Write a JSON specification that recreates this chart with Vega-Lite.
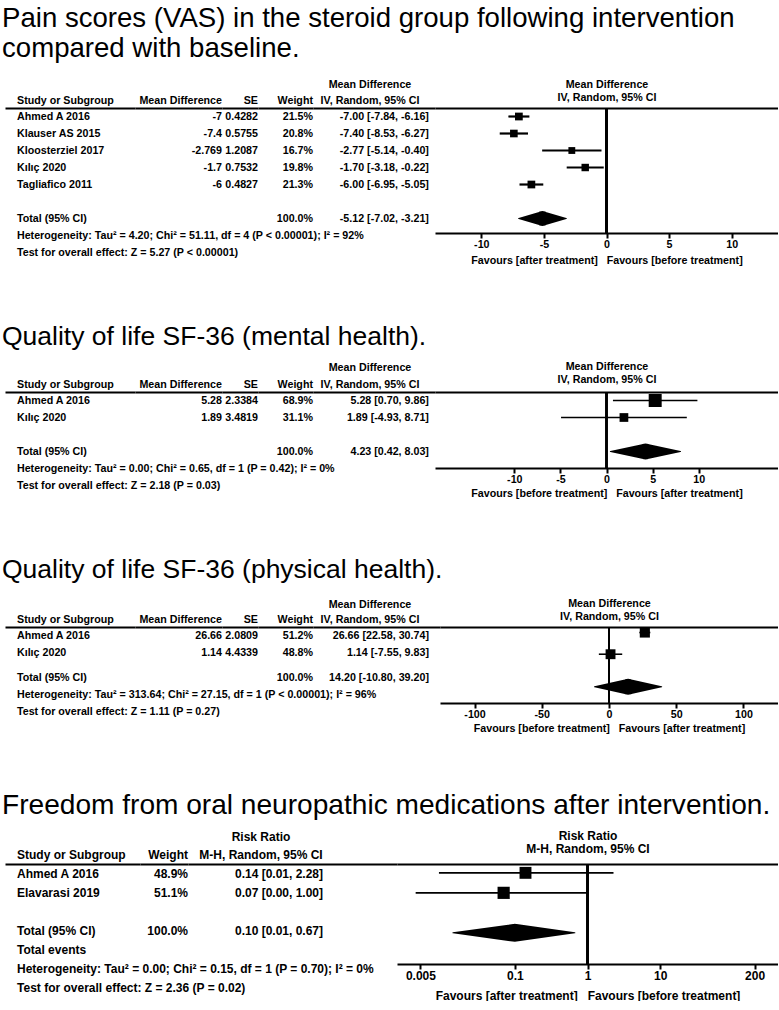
{
"$schema": "https://vega.github.io/schema/vega-lite/v6.json",
"background": "white",
"padding": {"left": 2, "top": 5, "right": 0, "bottom": 0},
"config": {
 "view": {"stroke": null},
 "axis": {"grid": false, "domainColor": "black", "domainWidth": 2, "tickColor": "black", "labelColor": "black", "titleColor": "black", "labelFont": "Liberation Sans", "titleFont": "Liberation Sans", "labelFontWeight": "bold", "titleFontWeight": "bold", "labelAngle": 0},
 "text": {"font": "Liberation Sans", "fontWeight": "bold", "color": "black", "baseline": "middle"},
 "title": {"font": "Liberation Sans", "color": "black", "fontWeight": "normal", "fontSize": 26.5, "anchor": "start", "dx": -3, "lineHeight": 30}
},
"datasets": {
 "p1": [
  {"row": "Ahmed A 2016", "label": "Ahmed A 2016", "md": "-7", "se": "0.4282", "w": "21.5%", "ci": "-7.00 [-7.84, -6.16]", "est": -7, "lo": -7.84, "hi": -6.16, "weight": 21.5, "kind": "study"},
  {"row": "Klauser AS 2015", "label": "Klauser AS 2015", "md": "-7.4", "se": "0.5755", "w": "20.8%", "ci": "-7.40 [-8.53, -6.27]", "est": -7.4, "lo": -8.53, "hi": -6.27, "weight": 20.8, "kind": "study"},
  {"row": "Kloosterziel 2017", "label": "Kloosterziel 2017", "md": "-2.769", "se": "1.2087", "w": "16.7%", "ci": "-2.77 [-5.14, -0.40]", "est": -2.77, "lo": -5.14, "hi": -0.4, "weight": 16.7, "kind": "study"},
  {"row": "Kılıç 2020", "label": "Kılıç 2020", "md": "-1.7", "se": "0.7532", "w": "19.8%", "ci": "-1.70 [-3.18, -0.22]", "est": -1.7, "lo": -3.18, "hi": -0.22, "weight": 19.8, "kind": "study"},
  {"row": "Tagliafico 2011", "label": "Tagliafico 2011", "md": "-6", "se": "0.4827", "w": "21.3%", "ci": "-6.00 [-6.95, -5.05]", "est": -6, "lo": -6.95, "hi": -5.05, "weight": 21.3, "kind": "study"},
  {"row": "Total", "label": "Total (95% CI)", "w": "100.0%", "ci": "-5.12 [-7.02, -3.21]", "est": -5.12, "lo": -7.02, "hi": -3.21, "weight": 100, "kind": "total"},
  {"row": "het", "label": "Heterogeneity: Tau² = 4.20; Chi² = 51.11, df = 4 (P < 0.00001); I² = 92%", "kind": "note"},
  {"row": "test", "label": "Test for overall effect: Z = 5.27 (P < 0.00001)", "kind": "note"}
 ],
 "p2": [
  {"row": "Ahmed A 2016", "label": "Ahmed A 2016", "md": "5.28", "se": "2.3384", "w": "68.9%", "ci": "5.28 [0.70, 9.86]", "est": 5.28, "lo": 0.7, "hi": 9.86, "weight": 68.9, "kind": "study"},
  {"row": "Kılıç 2020", "label": "Kılıç 2020", "md": "1.89", "se": "3.4819", "w": "31.1%", "ci": "1.89 [-4.93, 8.71]", "est": 1.89, "lo": -4.93, "hi": 8.71, "weight": 31.1, "kind": "study"},
  {"row": "Total", "label": "Total (95% CI)", "w": "100.0%", "ci": "4.23 [0.42, 8.03]", "est": 4.23, "lo": 0.42, "hi": 8.03, "weight": 100, "kind": "total"},
  {"row": "het", "label": "Heterogeneity: Tau² = 0.00; Chi² = 0.65, df = 1 (P = 0.42); I² = 0%", "kind": "note"},
  {"row": "test", "label": "Test for overall effect: Z = 2.18 (P = 0.03)", "kind": "note"}
 ],
 "p3": [
  {"row": "Ahmed A 2016", "label": "Ahmed A 2016", "md": "26.66", "se": "2.0809", "w": "51.2%", "ci": "26.66 [22.58, 30.74]", "est": 26.66, "lo": 22.58, "hi": 30.74, "weight": 51.2, "kind": "study"},
  {"row": "Kılıç 2020", "label": "Kılıç 2020", "md": "1.14", "se": "4.4339", "w": "48.8%", "ci": "1.14 [-7.55, 9.83]", "est": 1.14, "lo": -7.55, "hi": 9.83, "weight": 48.8, "kind": "study"},
  {"row": "Total", "label": "Total (95% CI)", "w": "100.0%", "ci": "14.20 [-10.80, 39.20]", "est": 14.2, "lo": -10.8, "hi": 39.2, "weight": 100, "kind": "total"},
  {"row": "het", "label": "Heterogeneity: Tau² = 313.64; Chi² = 27.15, df = 1 (P < 0.00001); I² = 96%", "kind": "note"},
  {"row": "test", "label": "Test for overall effect: Z = 1.11 (P = 0.27)", "kind": "note"}
 ],
 "p4": [
  {"row": "Ahmed A 2016", "label": "Ahmed A 2016", "w": "48.9%", "ci": "0.14 [0.01, 2.28]", "est": 0.14, "lo": 0.009, "hi": 2.28, "weight": 48.9, "kind": "study"},
  {"row": "Elavarasi 2019", "label": "Elavarasi 2019", "w": "51.1%", "ci": "0.07 [0.00, 1.00]", "est": 0.07, "lo": 0.0043, "hi": 1.0, "weight": 51.1, "kind": "study"},
  {"row": "Total", "label": "Total (95% CI)", "w": "100.0%", "ci": "0.10 [0.01, 0.67]", "est": 0.1, "lo": 0.014, "hi": 0.67, "weight": 100, "kind": "total"},
  {"row": "events", "label": "Total events", "kind": "note"},
  {"row": "het", "label": "Heterogeneity: Tau² = 0.00; Chi² = 0.15, df = 1 (P = 0.70); I² = 0%", "kind": "note"},
  {"row": "test", "label": "Test for overall effect: Z = 2.36 (P = 0.02)", "kind": "note"}
 ]
},
"spacing": 57,
"vconcat": [
 {
  "title": {"text": ["Pain scores (VAS) in the steroid group following intervention", "compared with baseline."], "offset": 15, "fontSize": 27.6},
  "bounds": "flush",
  "spacing": 0,
  "hconcat": [
   {"width": 130, "height": 153, "data": {"name": "p1"},
    "mark": {"type": "text", "align": "left", "fontSize": 10.7},
    "encoding": {
     "x": {"datum": "Study or Subgroup", "type": "nominal", "bandPosition": 0.092, "scale": {"type": "band", "paddingInner": 0, "paddingOuter": 0}, "axis": {"orient": "top", "ticks": false, "labelPadding": 3, "labelFontSize": 10.7, "labelAlign": "left", "labelOffset": -53, "title": null}},
     "y": {"field": "row", "type": "nominal", "scale": {"type": "point", "domain": ["Ahmed A 2016", "Klauser AS 2015", "Kloosterziel 2017", "Kılıç 2020", "Tagliafico 2011", "gap", "Total", "het", "test"], "padding": 0.5}, "axis": null},
     "text": {"field": "label", "type": "nominal"}}},
   {"width": 87, "height": 153, "data": {"name": "p1"}, "transform": [{"filter": "isValid(datum.md)"}],
    "mark": {"type": "text", "align": "right", "fontSize": 10.7},
    "encoding": {
     "x": {"datum": "Mean Difference", "type": "nominal", "bandPosition": 1, "scale": {"type": "band", "paddingInner": 0, "paddingOuter": 0}, "axis": {"orient": "top", "ticks": false, "labelPadding": 3, "labelFontSize": 10.7, "labelAlign": "right", "labelOffset": 43.5, "title": null}},
     "y": {"field": "row", "type": "nominal", "scale": {"type": "point", "domain": ["Ahmed A 2016", "Klauser AS 2015", "Kloosterziel 2017", "Kılıç 2020", "Tagliafico 2011", "gap", "Total", "het", "test"], "padding": 0.5}, "axis": null},
     "text": {"field": "md", "type": "nominal"}}},
   {"width": 36, "height": 153, "data": {"name": "p1"}, "transform": [{"filter": "isValid(datum.se)"}],
    "mark": {"type": "text", "align": "right", "fontSize": 10.7},
    "encoding": {
     "x": {"datum": "SE", "type": "nominal", "bandPosition": 1, "scale": {"type": "band", "paddingInner": 0, "paddingOuter": 0}, "axis": {"orient": "top", "ticks": false, "labelPadding": 3, "labelFontSize": 10.7, "labelAlign": "right", "labelOffset": 18, "title": null}},
     "y": {"field": "row", "type": "nominal", "scale": {"type": "point", "domain": ["Ahmed A 2016", "Klauser AS 2015", "Kloosterziel 2017", "Kılıç 2020", "Tagliafico 2011", "gap", "Total", "het", "test"], "padding": 0.5}, "axis": null},
     "text": {"field": "se", "type": "nominal"}}},
   {"width": 55, "height": 153, "data": {"name": "p1"}, "transform": [{"filter": "isValid(datum.w)"}],
    "mark": {"type": "text", "align": "right", "fontSize": 10.7},
    "encoding": {
     "x": {"datum": "Weight", "type": "nominal", "bandPosition": 1, "scale": {"type": "band", "paddingInner": 0, "paddingOuter": 0}, "axis": {"orient": "top", "ticks": false, "labelPadding": 3, "labelFontSize": 10.7, "labelAlign": "right", "labelOffset": 27.5, "title": null}},
     "y": {"field": "row", "type": "nominal", "scale": {"type": "point", "domain": ["Ahmed A 2016", "Klauser AS 2015", "Kloosterziel 2017", "Kılıç 2020", "Tagliafico 2011", "gap", "Total", "het", "test"], "padding": 0.5}, "axis": null},
     "text": {"field": "w", "type": "nominal"}}},
   {"width": 122, "height": 153, "data": {"name": "p1"}, "transform": [{"filter": "isValid(datum.ci)"}],
    "mark": {"type": "text", "align": "right", "fontSize": 10.7},
    "encoding": {
     "x": {"datum": "Mean Difference|IV, Random, 95% CI", "type": "nominal", "bandPosition": 0.95, "scale": {"type": "band", "paddingInner": 0, "paddingOuter": 0}, "axis": {"orient": "top", "ticks": false, "labelPadding": 19, "labelFontSize": 10.7, "labelAlign": "center", "labelOffset": -4, "labelExpr": "split(datum.label, '|')", "labelLineHeight": 16, "title": null}},
     "y": {"field": "row", "type": "nominal", "scale": {"type": "point", "domain": ["Ahmed A 2016", "Klauser AS 2015", "Kloosterziel 2017", "Kılıç 2020", "Tagliafico 2011", "gap", "Total", "het", "test"], "padding": 0.5}, "axis": null},
     "text": {"field": "ci", "type": "nominal"}}},
   {"width": 343, "height": 125, "data": {"name": "p1"},
    "resolve": {"scale": {"size": "independent"}, "axis": {"x": "independent"}},
    "layer": [
     {"transform": [{"filter": "datum.kind == 'study'"}],
      "mark": {"type": "rule", "strokeWidth": 2.2, "color": "black"},
      "encoding": {
       "x": {"field": "lo", "type": "quantitative", "scale": {"domain": [-13.7, 13.7], "nice": false, "zero": false},
             "axis": {"orient": "bottom", "values": [-10, -5, 0, 5, 10], "labelExpr": "'' + datum.value", "tickSize": 5, "tickWidth": 2, "labelFontSize": 10.7, "labelPadding": 1, "labelFlush": false, "title": "Favours [after treatment]\u00a0\u00a0\u00a0Favours [before treatment]", "titleFontSize": 10.7, "titlePadding": 7}},
       "x2": {"field": "hi"},
       "y": {"field": "row", "type": "nominal", "scale": {"type": "point", "domain": ["Ahmed A 2016", "Klauser AS 2015", "Kloosterziel 2017", "Kılıç 2020", "Tagliafico 2011", "gap", "Total"], "padding": 0.676, "align": 0.37}, "axis": null}}},
     {"transform": [{"filter": "datum.kind == 'study'"}],
      "mark": {"type": "square", "filled": true, "color": "black", "opacity": 1},
      "encoding": {
       "x": {"field": "est", "type": "quantitative", "axis": null},
       "y": {"field": "row", "type": "nominal", "axis": null},
       "size": {"field": "weight", "type": "quantitative", "scale": {"domain": [0, 100], "range": [0, 280]}, "legend": null}}},
     {"transform": [{"filter": "datum.kind == 'total'"}, {"fold": ["lo", "est", "hi"], "as": ["key", "value"]}],
      "mark": {"type": "trail", "color": "black"},
      "encoding": {
       "x": {"field": "value", "type": "quantitative", "axis": null},
       "y": {"field": "row", "type": "nominal", "axis": null},
       "order": {"field": "value", "type": "quantitative"},
       "size": {"field": "key", "type": "nominal", "scale": {"type": "ordinal", "domain": ["lo", "est", "hi"], "range": [0, 15, 0]}, "legend": null}}},
     {"mark": {"type": "rule", "strokeWidth": 2, "color": "black"},
      "encoding": {
       "x": {"datum": 0, "type": "quantitative", "axis": {"orient": "top", "ticks": false, "labels": false, "title": ["Mean Difference", "IV, Random, 95% CI"], "titleFontSize": 10.7, "titlePadding": 6, "titleLineHeight": 13}}}}
    ]}
  ]
 },
 {
  "title": {"text": "Quality of life SF-36 (mental health).", "offset": 10},
  "bounds": "flush",
  "spacing": 0,
  "hconcat": [
   {"width": 130, "height": 102, "data": {"name": "p2"},
    "mark": {"type": "text", "align": "left", "fontSize": 10.7},
    "encoding": {
     "x": {"datum": "Study or Subgroup", "type": "nominal", "bandPosition": 0.092, "scale": {"type": "band", "paddingInner": 0, "paddingOuter": 0}, "axis": {"orient": "top", "ticks": false, "labelPadding": 3, "labelFontSize": 10.7, "labelAlign": "left", "labelOffset": -53, "title": null}},
     "y": {"field": "row", "type": "nominal", "scale": {"type": "point", "domain": ["Ahmed A 2016", "Kılıç 2020", "gap", "Total", "het", "test"], "padding": 0.5}, "axis": null},
     "text": {"field": "label", "type": "nominal"}}},
   {"width": 87, "height": 102, "data": {"name": "p2"}, "transform": [{"filter": "isValid(datum.md)"}],
    "mark": {"type": "text", "align": "right", "fontSize": 10.7},
    "encoding": {
     "x": {"datum": "Mean Difference", "type": "nominal", "bandPosition": 1, "scale": {"type": "band", "paddingInner": 0, "paddingOuter": 0}, "axis": {"orient": "top", "ticks": false, "labelPadding": 3, "labelFontSize": 10.7, "labelAlign": "right", "labelOffset": 43.5, "title": null}},
     "y": {"field": "row", "type": "nominal", "scale": {"type": "point", "domain": ["Ahmed A 2016", "Kılıç 2020", "gap", "Total", "het", "test"], "padding": 0.5}, "axis": null},
     "text": {"field": "md", "type": "nominal"}}},
   {"width": 36, "height": 102, "data": {"name": "p2"}, "transform": [{"filter": "isValid(datum.se)"}],
    "mark": {"type": "text", "align": "right", "fontSize": 10.7},
    "encoding": {
     "x": {"datum": "SE", "type": "nominal", "bandPosition": 1, "scale": {"type": "band", "paddingInner": 0, "paddingOuter": 0}, "axis": {"orient": "top", "ticks": false, "labelPadding": 3, "labelFontSize": 10.7, "labelAlign": "right", "labelOffset": 18, "title": null}},
     "y": {"field": "row", "type": "nominal", "scale": {"type": "point", "domain": ["Ahmed A 2016", "Kılıç 2020", "gap", "Total", "het", "test"], "padding": 0.5}, "axis": null},
     "text": {"field": "se", "type": "nominal"}}},
   {"width": 55, "height": 102, "data": {"name": "p2"}, "transform": [{"filter": "isValid(datum.w)"}],
    "mark": {"type": "text", "align": "right", "fontSize": 10.7},
    "encoding": {
     "x": {"datum": "Weight", "type": "nominal", "bandPosition": 1, "scale": {"type": "band", "paddingInner": 0, "paddingOuter": 0}, "axis": {"orient": "top", "ticks": false, "labelPadding": 3, "labelFontSize": 10.7, "labelAlign": "right", "labelOffset": 27.5, "title": null}},
     "y": {"field": "row", "type": "nominal", "scale": {"type": "point", "domain": ["Ahmed A 2016", "Kılıç 2020", "gap", "Total", "het", "test"], "padding": 0.5}, "axis": null},
     "text": {"field": "w", "type": "nominal"}}},
   {"width": 122, "height": 102, "data": {"name": "p2"}, "transform": [{"filter": "isValid(datum.ci)"}],
    "mark": {"type": "text", "align": "right", "fontSize": 10.7},
    "encoding": {
     "x": {"datum": "Mean Difference|IV, Random, 95% CI", "type": "nominal", "bandPosition": 0.95, "scale": {"type": "band", "paddingInner": 0, "paddingOuter": 0}, "axis": {"orient": "top", "ticks": false, "labelPadding": 20, "labelFontSize": 10.7, "labelAlign": "center", "labelOffset": -4, "labelExpr": "split(datum.label, '|')", "labelLineHeight": 17, "title": null}},
     "y": {"field": "row", "type": "nominal", "scale": {"type": "point", "domain": ["Ahmed A 2016", "Kılıç 2020", "gap", "Total", "het", "test"], "padding": 0.5}, "axis": null},
     "text": {"field": "ci", "type": "nominal"}}},
   {"width": 343, "height": 76, "data": {"name": "p2"},
    "resolve": {"scale": {"size": "independent"}, "axis": {"x": "independent"}},
    "layer": [
     {"transform": [{"filter": "datum.kind == 'study'"}],
      "mark": {"type": "rule", "strokeWidth": 1.6, "color": "black"},
      "encoding": {
       "x": {"field": "lo", "type": "quantitative", "scale": {"domain": [-18.6, 18.6], "nice": false, "zero": false},
             "axis": {"orient": "bottom", "values": [-10, -5, 0, 5, 10], "labelExpr": "'' + datum.value", "tickSize": 5, "tickWidth": 2, "labelFontSize": 10.7, "labelPadding": 1, "labelFlush": false, "title": "Favours [before treatment]\u00a0\u00a0\u00a0Favours [after treatment]", "titleFontSize": 10.7, "titlePadding": 5}},
       "x2": {"field": "hi"},
       "y": {"field": "row", "type": "nominal", "scale": {"type": "point", "domain": ["Ahmed A 2016", "Kılıç 2020", "gap", "Total"], "padding": 0.735, "align": 0.34}, "axis": null}}},
     {"transform": [{"filter": "datum.kind == 'study'"}],
      "mark": {"type": "square", "filled": true, "color": "black", "opacity": 1},
      "encoding": {
       "x": {"field": "est", "type": "quantitative", "axis": null},
       "y": {"field": "row", "type": "nominal", "axis": null},
       "size": {"field": "weight", "type": "quantitative", "scale": {"domain": [0, 100], "range": [0, 245]}, "legend": null}}},
     {"transform": [{"filter": "datum.kind == 'total'"}, {"fold": ["lo", "est", "hi"], "as": ["key", "value"]}],
      "mark": {"type": "trail", "color": "black"},
      "encoding": {
       "x": {"field": "value", "type": "quantitative", "axis": null},
       "y": {"field": "row", "type": "nominal", "axis": null},
       "order": {"field": "value", "type": "quantitative"},
       "size": {"field": "key", "type": "nominal", "scale": {"type": "ordinal", "domain": ["lo", "est", "hi"], "range": [0, 16, 0]}, "legend": null}}},
     {"mark": {"type": "rule", "strokeWidth": 2, "color": "black"},
      "encoding": {
       "x": {"datum": 0, "type": "quantitative", "axis": {"orient": "top", "ticks": false, "labels": false, "title": ["Mean Difference", "IV, Random, 95% CI"], "titleFontSize": 10.7, "titlePadding": 8, "titleLineHeight": 13}}}}
    ]}
  ]
 },
 {
  "title": {"text": "Quality of life SF-36 (physical health).", "offset": 14},
  "bounds": "flush",
  "spacing": 0,
  "hconcat": [
   {"width": 130, "height": 93.5, "data": {"name": "p3"},
    "mark": {"type": "text", "align": "left", "fontSize": 10.7},
    "encoding": {
     "x": {"datum": "Study or Subgroup", "type": "nominal", "bandPosition": 0.092, "scale": {"type": "band", "paddingInner": 0, "paddingOuter": 0}, "axis": {"orient": "top", "ticks": false, "labelPadding": 3, "labelFontSize": 10.7, "labelAlign": "left", "labelOffset": -53, "title": null}},
     "y": {"field": "row", "type": "nominal", "scale": {"type": "point", "domain": ["Ahmed A 2016", "h1", "Kılıç 2020", "h2", "h3", "Total", "h4", "het", "h5", "test"], "padding": 1}, "axis": null},
     "text": {"field": "label", "type": "nominal"}}},
   {"width": 87, "height": 93.5, "data": {"name": "p3"}, "transform": [{"filter": "isValid(datum.md)"}],
    "mark": {"type": "text", "align": "right", "fontSize": 10.7},
    "encoding": {
     "x": {"datum": "Mean Difference", "type": "nominal", "bandPosition": 1, "scale": {"type": "band", "paddingInner": 0, "paddingOuter": 0}, "axis": {"orient": "top", "ticks": false, "labelPadding": 3, "labelFontSize": 10.7, "labelAlign": "right", "labelOffset": 43.5, "title": null}},
     "y": {"field": "row", "type": "nominal", "scale": {"type": "point", "domain": ["Ahmed A 2016", "h1", "Kılıç 2020", "h2", "h3", "Total", "h4", "het", "h5", "test"], "padding": 1}, "axis": null},
     "text": {"field": "md", "type": "nominal"}}},
   {"width": 36, "height": 93.5, "data": {"name": "p3"}, "transform": [{"filter": "isValid(datum.se)"}],
    "mark": {"type": "text", "align": "right", "fontSize": 10.7},
    "encoding": {
     "x": {"datum": "SE", "type": "nominal", "bandPosition": 1, "scale": {"type": "band", "paddingInner": 0, "paddingOuter": 0}, "axis": {"orient": "top", "ticks": false, "labelPadding": 3, "labelFontSize": 10.7, "labelAlign": "right", "labelOffset": 18, "title": null}},
     "y": {"field": "row", "type": "nominal", "scale": {"type": "point", "domain": ["Ahmed A 2016", "h1", "Kılıç 2020", "h2", "h3", "Total", "h4", "het", "h5", "test"], "padding": 1}, "axis": null},
     "text": {"field": "se", "type": "nominal"}}},
   {"width": 55, "height": 93.5, "data": {"name": "p3"}, "transform": [{"filter": "isValid(datum.w)"}],
    "mark": {"type": "text", "align": "right", "fontSize": 10.7},
    "encoding": {
     "x": {"datum": "Weight", "type": "nominal", "bandPosition": 1, "scale": {"type": "band", "paddingInner": 0, "paddingOuter": 0}, "axis": {"orient": "top", "ticks": false, "labelPadding": 3, "labelFontSize": 10.7, "labelAlign": "right", "labelOffset": 27.5, "title": null}},
     "y": {"field": "row", "type": "nominal", "scale": {"type": "point", "domain": ["Ahmed A 2016", "h1", "Kılıç 2020", "h2", "h3", "Total", "h4", "het", "h5", "test"], "padding": 1}, "axis": null},
     "text": {"field": "w", "type": "nominal"}}},
   {"width": 127, "height": 93.5, "data": {"name": "p3"}, "transform": [{"filter": "isValid(datum.ci)"}],
    "mark": {"type": "text", "align": "right", "fontSize": 10.7},
    "encoding": {
     "x": {"datum": "Mean Difference|IV, Random, 95% CI", "type": "nominal", "bandPosition": 0.913, "scale": {"type": "band", "paddingInner": 0, "paddingOuter": 0}, "axis": {"orient": "top", "ticks": false, "labelPadding": 18, "labelFontSize": 10.7, "labelAlign": "center", "labelOffset": -6.5, "labelExpr": "split(datum.label, '|')", "labelLineHeight": 15, "title": null}},
     "y": {"field": "row", "type": "nominal", "scale": {"type": "point", "domain": ["Ahmed A 2016", "h1", "Kılıç 2020", "h2", "h3", "Total", "h4", "het", "h5", "test"], "padding": 1}, "axis": null},
     "text": {"field": "ci", "type": "nominal"}}},
   {"width": 338, "height": 76, "data": {"name": "p3"},
    "resolve": {"scale": {"size": "independent"}, "axis": {"x": "independent"}},
    "layer": [
     {"transform": [{"filter": "datum.kind == 'study'"}],
      "mark": {"type": "rule", "strokeWidth": 1.6, "color": "black"},
      "encoding": {
       "x": {"field": "lo", "type": "quantitative", "scale": {"domain": [-125.7, 125.7], "nice": false, "zero": false},
             "axis": {"orient": "bottom", "values": [-100, -50, 0, 50, 100], "labelExpr": "'' + datum.value", "tickSize": 5, "tickWidth": 2, "labelFontSize": 10.7, "labelPadding": 1, "labelFlush": false, "title": "Favours [before treatment]\u00a0\u00a0\u00a0Favours [after treatment]", "titleFontSize": 10.7, "titlePadding": 5}},
       "x2": {"field": "hi"},
       "y": {"field": "row", "type": "nominal", "scale": {"type": "point", "domain": ["Ahmed A 2016", "h1", "Kılıç 2020", "h2", "h3", "Total"], "padding": 1.97, "align": 0.254}, "axis": null}}},
     {"transform": [{"filter": "datum.kind == 'study'"}],
      "mark": {"type": "square", "filled": true, "color": "black", "opacity": 1},
      "encoding": {
       "x": {"field": "est", "type": "quantitative", "axis": null},
       "y": {"field": "row", "type": "nominal", "axis": null},
       "size": {"field": "weight", "type": "quantitative", "scale": {"domain": [0, 100], "range": [0, 200]}, "legend": null}}},
     {"transform": [{"filter": "datum.kind == 'total'"}, {"fold": ["lo", "est", "hi"], "as": ["key", "value"]}],
      "mark": {"type": "trail", "color": "black"},
      "encoding": {
       "x": {"field": "value", "type": "quantitative", "axis": null},
       "y": {"field": "row", "type": "nominal", "axis": null},
       "order": {"field": "value", "type": "quantitative"},
       "size": {"field": "key", "type": "nominal", "scale": {"type": "ordinal", "domain": ["lo", "est", "hi"], "range": [0, 16, 0]}, "legend": null}}},
     {"mark": {"type": "rule", "strokeWidth": 2, "color": "black"},
      "encoding": {
       "x": {"datum": 0, "type": "quantitative", "axis": {"orient": "top", "ticks": false, "labels": false, "title": ["Mean Difference", "IV, Random, 95% CI"], "titleFontSize": 10.7, "titlePadding": 6, "titleLineHeight": 13}}}}
    ]}
  ]
 },
 {
  "title": {"text": "Freedom from oral neuropathic medications after intervention.", "offset": 9, "fontSize": 28.1},
  "bounds": "flush",
  "spacing": 0,
  "hconcat": [
   {"width": 135, "height": 133, "data": {"name": "p4"},
    "mark": {"type": "text", "align": "left", "fontSize": 12},
    "encoding": {
     "x": {"datum": "Study or Subgroup", "type": "nominal", "bandPosition": 0.089, "scale": {"type": "band", "paddingInner": 0, "paddingOuter": 0}, "axis": {"orient": "top", "ticks": false, "labelPadding": 3, "labelFontSize": 12, "labelAlign": "left", "labelOffset": -55.5, "title": null}},
     "y": {"field": "row", "type": "nominal", "scale": {"type": "point", "domain": ["Ahmed A 2016", "Elavarasi 2019", "gap", "Total", "events", "het", "test"], "padding": 0.5}, "axis": null},
     "text": {"field": "label", "type": "nominal"}}},
   {"width": 48, "height": 133, "data": {"name": "p4"}, "transform": [{"filter": "isValid(datum.w)"}],
    "mark": {"type": "text", "align": "right", "fontSize": 12},
    "encoding": {
     "x": {"datum": "Weight", "type": "nominal", "bandPosition": 1, "scale": {"type": "band", "paddingInner": 0, "paddingOuter": 0}, "axis": {"orient": "top", "ticks": false, "labelPadding": 3, "labelFontSize": 12, "labelAlign": "right", "labelOffset": 24, "title": null}},
     "y": {"field": "row", "type": "nominal", "scale": {"type": "point", "domain": ["Ahmed A 2016", "Elavarasi 2019", "gap", "Total", "events", "het", "test"], "padding": 0.5}, "axis": null},
     "text": {"field": "w", "type": "nominal"}}},
   {"width": 209, "height": 133, "data": {"name": "p4"}, "transform": [{"filter": "isValid(datum.ci)"}],
    "mark": {"type": "text", "align": "right", "fontSize": 12},
    "encoding": {
     "x": {"datum": "Risk Ratio|M-H, Random, 95% CI", "type": "nominal", "bandPosition": 0.646, "scale": {"type": "band", "paddingInner": 0, "paddingOuter": 0}, "axis": {"orient": "top", "ticks": false, "labelPadding": 21, "labelFontSize": 12, "labelAlign": "center", "labelOffset": -31.5, "labelExpr": "split(datum.label, '|')", "labelLineHeight": 18, "title": null}},
     "y": {"field": "row", "type": "nominal", "scale": {"type": "point", "domain": ["Ahmed A 2016", "Elavarasi 2019", "gap", "Total", "events", "het", "test"], "padding": 0.5}, "axis": null},
     "text": {"field": "ci", "type": "nominal"}}},
   {"width": 381, "height": 100, "data": {"name": "p4"},
    "resolve": {"scale": {"size": "independent"}, "axis": {"x": "independent"}},
    "layer": [
     {"transform": [{"filter": "datum.kind == 'study'"}],
      "mark": {"type": "rule", "strokeWidth": 1.8, "color": "black"},
      "encoding": {
       "x": {"field": "lo", "type": "quantitative", "scale": {"type": "log", "domain": [0.00238, 420], "nice": false, "zero": false},
             "axis": {"orient": "bottom", "values": [0.005, 0.1, 1, 10, 200], "labelExpr": "'' + datum.value", "tickSize": 5, "tickWidth": 2, "labelFontSize": 12, "labelPadding": 1, "labelFlush": false, "title": "Favours [after treatment]\u00a0\u00a0\u00a0Favours [before treatment]", "titleFontSize": 12, "titlePadding": 9}},
       "x2": {"field": "hi"},
       "y": {"field": "row", "type": "nominal", "scale": {"type": "point", "domain": ["Ahmed A 2016", "Elavarasi 2019", "gap", "Total"], "padding": 1.132, "align": 0.221}, "axis": null}}},
     {"transform": [{"filter": "datum.kind == 'study'"}],
      "mark": {"type": "square", "filled": true, "color": "black", "opacity": 1},
      "encoding": {
       "x": {"field": "est", "type": "quantitative", "axis": null},
       "y": {"field": "row", "type": "nominal", "axis": null},
       "size": {"field": "weight", "type": "quantitative", "scale": {"domain": [0, 100], "range": [0, 290]}, "legend": null}}},
     {"transform": [{"filter": "datum.kind == 'total'"}, {"fold": ["lo", "est", "hi"], "as": ["key", "value"]}],
      "mark": {"type": "trail", "color": "black"},
      "encoding": {
       "x": {"field": "value", "type": "quantitative", "axis": null},
       "y": {"field": "row", "type": "nominal", "axis": null},
       "order": {"field": "value", "type": "quantitative"},
       "size": {"field": "key", "type": "nominal", "scale": {"type": "ordinal", "domain": ["lo", "est", "hi"], "range": [0, 18, 0]}, "legend": null}}},
     {"mark": {"type": "rule", "strokeWidth": 2, "color": "black"},
      "encoding": {
       "x": {"datum": 1, "type": "quantitative", "axis": {"orient": "top", "ticks": false, "labels": false, "title": ["Risk Ratio", "M-H, Random, 95% CI"], "titleFontSize": 12, "titlePadding": 9, "titleLineHeight": 13}}}}
    ]}
  ]
 }
]
}
